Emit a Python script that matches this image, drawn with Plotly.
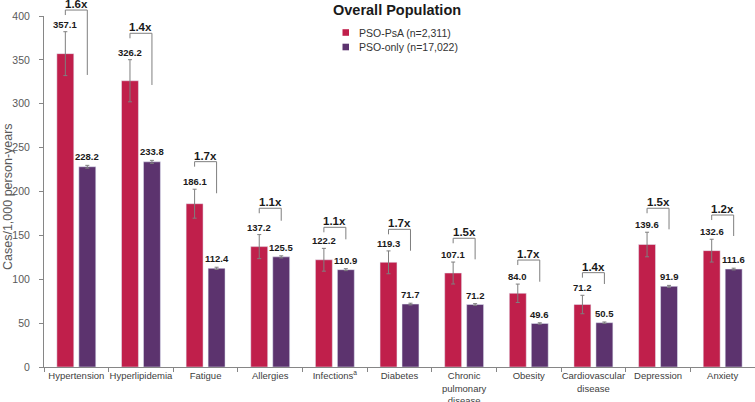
import plotly.graph_objects as go

categories = ["Hypertension", "Hyperlipidemia", "Fatigue", "Allergies", "Infections<sup>a</sup>",
              "Diabetes", "Chronic<br>pulmonary<br>disease", "Obesity",
              "Cardiovascular<br>disease", "Depression", "Anxiety"]
pso_psa = [357.1, 326.2, 186.1, 137.2, 122.2, 119.3, 107.1, 84.0, 71.2, 139.6, 132.6]
pso_only = [228.2, 233.8, 112.4, 125.5, 110.9, 71.7, 71.2, 49.6, 50.5, 91.9, 111.6]
pso_psa_err = [25, 24, 16.5, 13.7, 13, 13, 12.5, 10.5, 10.5, 14, 13]
pso_only_err = [1.6, 1.7, 1.3, 1.2, 1.1, 1.0, 1.0, 0.8, 0.8, 1.1, 1.0]
ratio_labels = ["1.6x", "1.4x", "1.7x", "1.1x", "1.1x", "1.7x", "1.5x", "1.7x", "1.4x", "1.5x", "1.2x"]
bracket_top = [406.8, 380.3, 234, 180.9, 159.2, 156.9, 146.7, 121.9, 107.5, 180.9, 173.2]
bracket_end = [332.8, 321.4, 198, 166.7, 145.5, 132.5, 122.7, 97.2, 94.6, 156.9, 149.3]
series_names = ["PSO-PsA (n=2,311)", "PSO-only (n=17,022)"]

RED = "#C01F4B"
PURPLE = "#5C336E"
GREY = "#7F7F7F"
FONT = "Arial, Liberation Sans, sans-serif"
NARROW = "Liberation Sans Narrow, Arial Narrow, Arial, sans-serif"

W, H = 755, 402
ML, MR, MT, MB = 44, 0, 16, 35
PW = W - ML - MR
PH = H - MT - MB
YMAX = 400
BARGAP = 0.32
OFF = (1 - BARGAP) / 4


def py(v):
    return v / YMAX


def px_x(x):
    return (x - ML) / PW


def px_y(y):
    return (H - MB - y) / PH


fig = go.Figure()
fig.add_trace(go.Bar(x=categories, y=pso_psa, name=series_names[0], marker_color=RED,
                     error_y=dict(type="data", array=pso_psa_err, color=GREY, thickness=1, width=2),
                     showlegend=False))
fig.add_trace(go.Bar(x=categories, y=pso_only, name=series_names[1], marker_color=PURPLE,
                     error_y=dict(type="data", array=pso_only_err, color=GREY, thickness=1, width=2),
                     showlegend=False))

shapes = []
ann = []
for i in range(len(categories)):
    xl, xr = i - OFF, i + OFF
    top = py(bracket_top[i])
    shapes.append(dict(type="path", xref="x", yref="paper",
                       path=f"M {xl},{top - 5 / PH} L {xl},{top} L {xr},{top} L {xr},{py(bracket_end[i])}",
                       line=dict(color=GREY, width=1)))
    ann.append(dict(x=i, y=top, xref="x", yref="paper", text=f"<b>{ratio_labels[i]}</b>",
                    showarrow=False, yanchor="bottom", yshift=-2,
                    font=dict(size=11.5, color="#1a1a1a", family=FONT)))
    ann.append(dict(x=xl, y=py(pso_psa[i] + pso_psa_err[i]), xref="x", yref="paper",
                    text=f"<b>{pso_psa[i]:.1f}</b>", showarrow=False, yanchor="bottom", yshift=0,
                    font=dict(size=9.5, color="#1a1a1a", family=FONT)))
    ann.append(dict(x=xr, y=py(pso_only[i] + pso_only_err[i]), xref="x", yref="paper",
                    text=f"<b>{pso_only[i]:.1f}</b>", showarrow=False, yanchor="bottom", yshift=1,
                    font=dict(size=9.5, color="#1a1a1a", family=FONT)))

# title
ann.append(dict(x=px_x(396.5), y=px_y(10), xref="paper", yref="paper",
                text="<b>Overall Population</b>", showarrow=False, yanchor="middle",
                font=dict(size=14.5, color="#1a1a1a", family=FONT)))
# legend (custom)
for k, (col, name) in enumerate(zip([RED, PURPLE], series_names)):
    cy = 32.5 + 14.5 * k
    ann.append(dict(x=px_x(357), y=px_y(cy), xref="paper", yref="paper", text=name,
                    showarrow=False, xanchor="left", yanchor="middle",
                    font=dict(size=10.5, color="#333333", family=FONT)))
    shapes.append(dict(type="rect", xref="paper", yref="paper",
                       x0=px_x(342.5), x1=px_x(349), y0=px_y(cy + 3.3), y1=px_y(cy - 3.3),
                       fillcolor=col, line=dict(width=0)))
# y-axis title
ann.append(dict(x=px_x(8), y=px_y(197), xref="paper", yref="paper",
                text="Cases/1,000 person-years", textangle=-90, showarrow=False,
                xanchor="center", yanchor="middle",
                font=dict(size=12.5, color="#595959", family=FONT)))

fig.update_layout(
    width=W, height=H,
    margin=dict(l=ML, r=MR, t=MT, b=MB, autoexpand=False),
    paper_bgcolor="white", plot_bgcolor="white",
    barmode="group", bargap=BARGAP, bargroupgap=0.23,
    font=dict(family=FONT),
    shapes=shapes, annotations=ann,
    xaxis=dict(showline=True, linecolor="#868686", linewidth=1, ticks="outside", tickson="boundaries",
               ticklen=4, tickcolor="#868686", tickangle=0,
               tickfont=dict(size=9.5, color="#404040"),
               showgrid=False, automargin=False),
    yaxis=dict(range=[0, YMAX], dtick=50, showline=True, linecolor="#868686", linewidth=1,
               ticks="outside", ticklen=4, tickcolor="#868686", ticklabelstandoff=7,
               tickfont=dict(size=10.5, color="#595959", family=NARROW),
               showgrid=False, zeroline=False, automargin=False),
)

fig.write_html("out.html", config={"displayModeBar": False},
               post_script="document.body.style.margin='0px';document.body.style.overflow='hidden';")
